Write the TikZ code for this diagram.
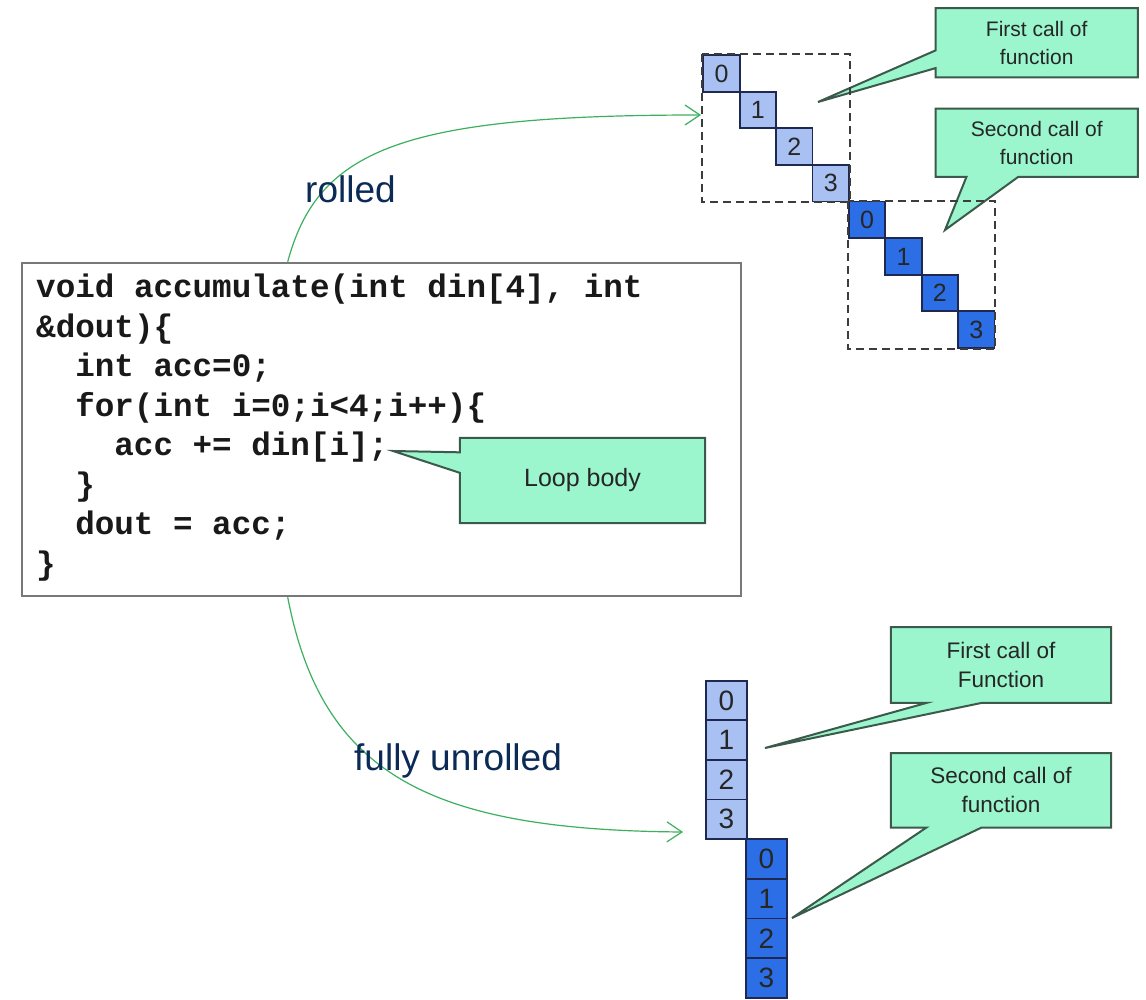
\documentclass[tikz,border=0pt]{standalone}
\usepackage{fontspec}
\setmainfont{Liberation Sans}
\newfontfamily\codefont{Liberation Mono}
\usetikzlibrary{calc,arrows.meta}

\definecolor{calloutfill}{RGB}{155,245,205}
\definecolor{calloutline}{RGB}{60,90,75}
\definecolor{celllight}{RGB}{168,192,242}
\definecolor{celldark}{RGB}{44,110,230}
\definecolor{cellline}{RGB}{30,40,80}
\definecolor{flowgreen}{RGB}{60,176,96}
\definecolor{labelnavy}{RGB}{11,42,85}
\definecolor{boxgray}{RGB}{120,120,120}
\definecolor{dashgray}{RGB}{60,60,60}

\pgfdeclarelayer{background}
\pgfsetlayers{background,main}

\begin{document}
\begin{tikzpicture}[x=1pt,y=-1pt,
  cell/.style={draw=cellline, line width=1.8pt, inner sep=0pt, text=black!85},
  topcell/.style={cell, minimum width=36.5pt, minimum height=36.6pt, font=\fontsize{25}{30}\selectfont},
  stackcell/.style={cell, minimum width=40.5pt, minimum height=39.6pt, font=\fontsize{28}{32}\selectfont},
  lightcell/.style={fill=celllight},
  darkcell/.style={fill=celldark},
  groupbox/.style={draw=dashgray, line width=2pt, dash pattern=on 8pt off 5pt},
  callouttext/.style={inner sep=0pt, align=center, text=black!85},
  calloutshape/.style={fill=calloutfill, draw=calloutline, line width=2pt, line join=miter},
  codebox/.style={draw=boxgray, line width=2.5pt, inner sep=0pt},
  codeline/.style={anchor=base west, inner sep=0pt, text=black!90,
    font=\codefont\bfseries\fontsize{32.6}{39.4}\selectfont},
  flow/.style={draw=flowgreen, line width=1.2pt, -{Straight Barb[length=15pt,width=20pt]}},
  flowlabel/.style={anchor=base west, inner sep=0pt, text=labelnavy, font=\fontsize{37}{42}\selectfont}]

\begin{pgfonlayer}{background}
  \fill[white] (0,0) rectangle (1146,1000);
\end{pgfonlayer}
\useasboundingbox (0,0) rectangle (1146,1000);

% ---------- source code ----------
\node[codebox, minimum width=719pt, minimum height=333pt] (code) at (381.5,429.5) {};
\node[codeline] (code1) at (36,298)    {void accumulate(int din[4], int};
\node[codeline] (code2) at (36,337.5)  {\&dout)\{};
\node[codeline] (code3) at (75.1,377)  {int acc=0;};
\node[codeline] (code4) at (75.1,416.5) {for(int i=0;i<4;i++)\{};
\node[codeline] (code5) at (114.2,455.5) {acc += din[i];};
\node[codeline] (code6) at (75.1,495)  {\}};
\node[codeline] (code7) at (75.1,534.5) {dout = acc;};
\node[codeline] (code8) at (36,574)    {\}};

% loop body callout
\node[callouttext, minimum width=245pt, minimum height=85pt, font=\fontsize{25}{30}\selectfont] (loop) at (582.5,480.5) {Loop body};
\coordinate (looptip) at (393,451);
\begin{pgfonlayer}{background}
  \path[calloutshape] (loop.north west) -- (loop.north east) -- (loop.south east) -- (loop.south west)
    -- ($(loop.north west)!0.41!(loop.south west)$) -- (looptip)
    -- ($(loop.north west)!0.17!(loop.south west)$) -- cycle;
\end{pgfonlayer}

% ---------- rolled: one iteration after another ----------
\node[topcell, lightcell] (r0) at (721.5,73.5)  {0};
\node[topcell, lightcell] (r1) at (757.9,110.1) {1};
\node[topcell, lightcell] (r2) at (794.3,146.7) {2};
\node[topcell, lightcell] (r3) at (830.7,183.3) {3};
\node[topcell, darkcell]  (r4) at (867.1,219.9) {0};
\node[topcell, darkcell]  (r5) at (903.5,256.5) {1};
\node[topcell, darkcell]  (r6) at (939.9,293.1) {2};
\node[topcell, darkcell]  (r7) at (976.3,329.7) {3};
\draw[groupbox] (r0.north west) rectangle (r3.south east);
\draw[groupbox] (r4.north west) rectangle (r7.south east);

\node[callouttext, minimum width=202pt, minimum height=69pt, font=\fontsize{21}{28}\selectfont] (rcall1) at (1036.7,42.8) {First call of\\function};
\coordinate (rtip1) at (818,102);
\node[callouttext, minimum width=202pt, minimum height=67.7pt, font=\fontsize{21}{28}\selectfont] (rcall2) at (1036.7,142.8) {Second call of\\function};
\coordinate (rtip2) at (945,230);
\begin{pgfonlayer}{background}
  \path[calloutshape] (rcall1.north west) -- (rcall1.north east) -- (rcall1.south east) -- (rcall1.south west)
    -- ($(rcall1.north west)!0.865!(rcall1.south west)$) -- (rtip1)
    -- ($(rcall1.north west)!0.61!(rcall1.south west)$) -- cycle;
  \path[calloutshape] (rcall2.north west) -- (rcall2.north east) -- (rcall2.south east)
    -- ($(rcall2.south west)!0.409!(rcall2.south east)$) -- (rtip2)
    -- ($(rcall2.south west)!0.153!(rcall2.south east)$) -- (rcall2.south west) -- cycle;
\end{pgfonlayer}

% ---------- fully unrolled: all iterations side by side ----------
\node[stackcell, lightcell] (u0) at (726.5,700.5) {0};
\node[stackcell, lightcell] (u1) at (726.5,740.1) {1};
\node[stackcell, lightcell] (u2) at (726.5,779.7) {2};
\node[stackcell, lightcell] (u3) at (726.5,819.3) {3};
\node[stackcell, darkcell]  (u4) at (766.5,859.1) {0};
\node[stackcell, darkcell]  (u5) at (766.5,898.7) {1};
\node[stackcell, darkcell]  (u6) at (766.5,938.3) {2};
\node[stackcell, darkcell]  (u7) at (766.5,977.9) {3};

\node[callouttext, minimum width=220pt, minimum height=75.4pt, font=\fontsize{22.5}{29}\selectfont] (ucall1) at (1001,665) {First call of\\Function};
\coordinate (utip1) at (765,748);
\node[callouttext, minimum width=220pt, minimum height=74pt, font=\fontsize{22.5}{29}\selectfont] (ucall2) at (1001,790.3) {Second call of\\function};
\coordinate (utip2) at (792,918);
\begin{pgfonlayer}{background}
  \path[calloutshape] (ucall1.north west) -- (ucall1.north east) -- (ucall1.south east)
    -- ($(ucall1.south west)!0.412!(ucall1.south east)$) -- (utip1)
    -- ($(ucall1.south west)!0.162!(ucall1.south east)$) -- (ucall1.south west) -- cycle;
  \path[calloutshape] (ucall2.north west) -- (ucall2.north east) -- (ucall2.south east)
    -- ($(ucall2.south west)!0.412!(ucall2.south east)$) -- (utip2)
    -- ($(ucall2.south west)!0.162!(ucall2.south east)$) -- (ucall2.south west) -- cycle;
\end{pgfonlayer}

% ---------- transformation arrows ----------
\coordinate (rollstart) at ($(code.north west)!0.37!(code.north east)$);
\coordinate (rollend) at (701,115);
\coordinate (unrollstart) at ($(code.south west)!0.37!(code.south east)$);
\coordinate (unrollend) at (683,832);
\draw[flow] (rollstart) .. controls (318,150) and (400,115) .. (rollend);
\draw[flow] (unrollstart) .. controls (322,775) and (430,830) .. (unrollend);
\node[flowlabel] (rolled) at (305,203) {rolled};
\node[flowlabel] (unrolled) at (354,770) {fully unrolled};

\end{tikzpicture}
\end{document}
